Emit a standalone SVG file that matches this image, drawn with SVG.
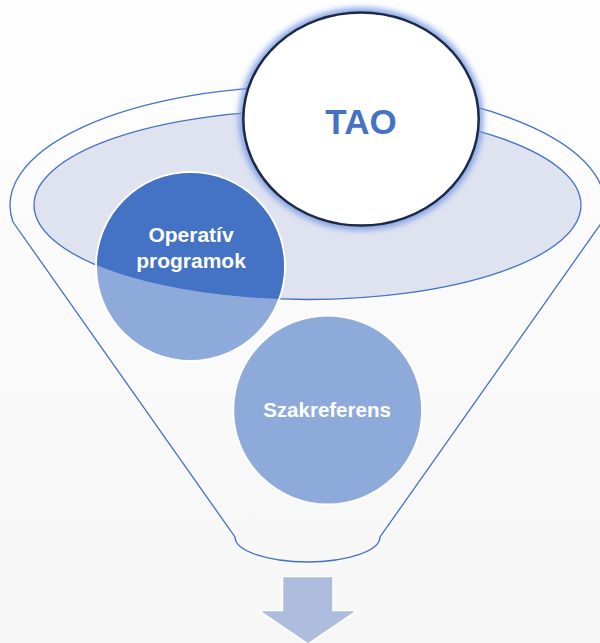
<svg xmlns="http://www.w3.org/2000/svg" width="600" height="643" viewBox="0 0 600 643">
  <defs>
    <linearGradient id="bg" x1="0" y1="0" x2="0" y2="1">
      <stop offset="0" stop-color="#fefefe"/>
      <stop offset="1" stop-color="#f6f6f6"/>
    </linearGradient>
    <clipPath id="opening">
      <ellipse cx="307.5" cy="205" rx="273.5" ry="94.5"/>
    </clipPath>
    <filter id="glow" x="-20%" y="-20%" width="140%" height="140%">
      <feGaussianBlur stdDeviation="3"/>
    </filter>
    <style>
      .line { fill: none; stroke: #4472c4; stroke-width: 1.3; }
      .ball { fill: #8eaadb; stroke: #ffffff; stroke-width: 2; }
      .ballIn { fill: #4472c4; }
      .lbl { font-family: "Liberation Sans", Arial, sans-serif; font-weight: bold; fill: #ffffff; text-anchor: middle; }
    </style>
  </defs>

  <rect x="0" y="0" width="600" height="643" fill="url(#bg)"/>

  <g id="funnel">
    <path d="M 13 222 A 297.5 119 0 1 1 602 222 L 380 537 A 72.5 25 0 0 1 235 537 Z" fill="#ffffff" fill-opacity="0.4" class="line"/>
    <ellipse cx="307.5" cy="205" rx="273.5" ry="94.5" fill="#dfe3f0" stroke="#4472c4" stroke-width="1.3"/>
  </g>

  <g id="node-operativ">
    <circle class="ball" cx="190.5" cy="266.5" r="94.5"/>
    <circle class="ballIn" cx="190.5" cy="266.5" r="93.5" clip-path="url(#opening)"/>
    <text class="lbl" x="191" y="242" font-size="21">Operatív</text>
    <text class="lbl" x="191" y="268" font-size="21">programok</text>
  </g>

  <g id="node-szakreferens">
    <circle class="ball" cx="327.7" cy="410" r="94.5"/>
    <text class="lbl" x="327" y="417" font-size="20.5">Szakreferens</text>
  </g>

  <g id="node-tao">
    <ellipse cx="361" cy="119" rx="118" ry="107" fill="none" stroke="#7c9de3" stroke-width="8" filter="url(#glow)"/>
    <ellipse cx="361" cy="119" rx="117.7" ry="106.6" fill="#ffffff" stroke="#1c2a48" stroke-width="2.5"/>
    <text x="361" y="134" font-family="Liberation Sans, Arial, sans-serif" font-weight="bold" font-size="35" fill="#4472c4" text-anchor="middle">TAO</text>
  </g>

  <g id="connectors">
    <polygon points="282.5,576.5 333,576.5 333,610.5 357,610.5 308,644 259,610.5 282.5,610.5" fill="#aebcde" stroke="#ffffff" stroke-width="1.5"/>
  </g>
</svg>
